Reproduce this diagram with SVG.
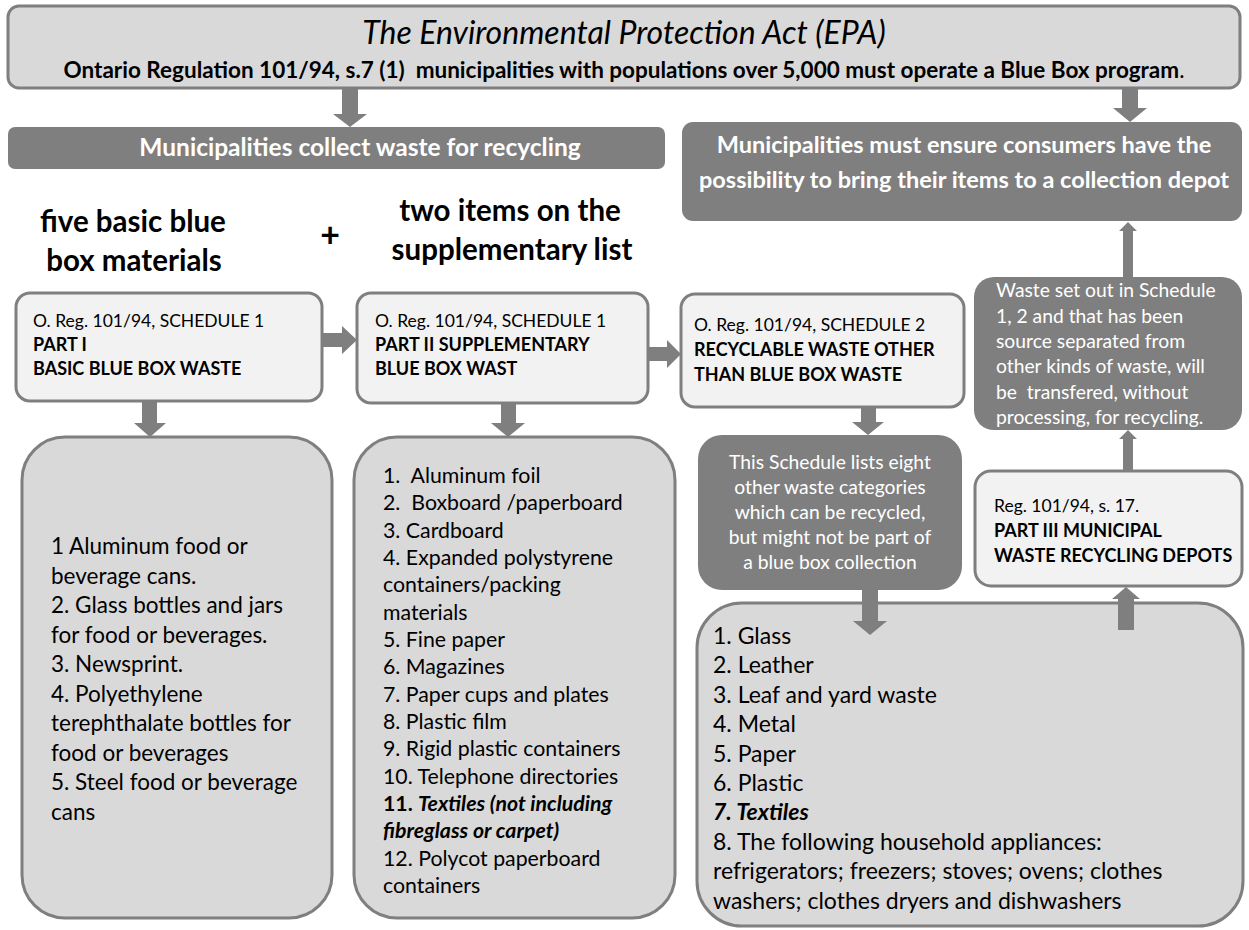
<svg xmlns="http://www.w3.org/2000/svg" width="1249" height="930" viewBox="0 0 1249 930">
<style>
text { font-family: Lato, "Open Sans", "Liberation Sans", sans-serif; fill: #000; }
.hdr { fill: #d9d9d9; stroke: #7f7f7f; stroke-width: 3; }
.dark { fill: #7f7f7f; stroke: none; }
.lite { fill: #f2f2f2; stroke: #7f7f7f; stroke-width: 3; }
.list { fill: #d9d9d9; stroke: #7f7f7f; stroke-width: 3; }
.arr { fill: #7f7f7f; }
.w { fill: #fff; }
.b { font-weight: bold; }
.i { font-style: italic; }
.reg { font-size: 17.5px; }
.regb { font-size: 18px; font-weight: bold; }
.la { font-size: 22.5px; }
.lb { font-size: 21.3px; }
.lc { font-size: 23px; }
.big { font-size: 29.5px; font-weight: bold; }
.note { font-size: 19.3px; fill: #fff; }
</style>

<g id="connectors">
  <!-- header -> collect bar -->
  <polygon class="arr" points="342,89 358,89 358,114 367,114 350,127 333,114 342,114"/>
  <!-- header -> right dark box -->
  <polygon class="arr" points="1122,89 1138,89 1138,108 1147,108 1130,122 1113,108 1122,108"/>
  <!-- box A -> box B -->
  <polygon class="arr" points="322,333 342,333 342,326 357,340 342,354 342,347 322,347"/>
  <!-- box B -> box C -->
  <polygon class="arr" points="648,347 667,347 667,340 681,354 667,368 667,361 648,361"/>
  <!-- box A -> list A -->
  <polygon class="arr" points="142,401 157,401 157,423 166,423 150,437 134,423 142,423"/>
  <!-- box B -> list B -->
  <polygon class="arr" points="501,403 516,403 516,423 525,423 508,437 491,423 501,423"/>
  <!-- box C -> schedule note -->
  <polygon class="arr" points="861,407 876,407 876,422 884,422 868,435 852,422 861,422"/>
</g>

<g id="epa">
  <rect class="hdr" x="8" y="6" width="1232" height="82" rx="11"/>
  <text class="i" x="624" y="44" font-size="32" text-anchor="middle">The Environmental Protection Act (EPA)</text>
  <text class="b" x="624" y="78" font-size="22.5" text-anchor="middle" xml:space="preserve">Ontario Regulation 101/94, s.7 (1)  municipalities with populations over 5,000 must operate a Blue Box program<tspan font-weight="normal">.</tspan></text>
</g>

<g id="collect">
  <rect class="dark" x="8" y="127" width="657" height="42" rx="7"/>
  <text class="w b" x="360" y="156" font-size="24.5" text-anchor="middle">Municipalities collect waste for recycling</text>
</g>

<g id="depot-note">
  <rect class="dark" x="682" y="122" width="560" height="99" rx="11"/>
  <text class="w b" x="964" y="153" font-size="23.5" text-anchor="middle">Municipalities must ensure consumers have the</text>
  <text class="w b" x="964" y="188" font-size="23.5" text-anchor="middle">possibility to bring their items to a collection depot</text>
</g>

<g id="label-five">
  <text class="big" x="133" y="232" text-anchor="middle">five basic blue</text>
  <text class="big" x="134" y="271" text-anchor="middle">box materials</text>
</g>
<g id="plus">
  <text x="330" y="247" font-size="34" font-weight="bold" text-anchor="middle">+</text>
</g>
<g id="label-two">
  <text class="big" x="510" y="221" text-anchor="middle">two items on the</text>
  <text class="big" x="512" y="260" text-anchor="middle">supplementary list</text>
</g>

<g id="part1">
  <rect class="lite" x="16" y="293" width="306" height="108" rx="14"/>
  <text class="reg" x="33" y="327">O. Reg. 101/94, SCHEDULE 1</text>
  <text class="regb" x="33" y="351">PART I</text>
  <text class="regb" x="33" y="375">BASIC BLUE BOX WASTE</text>
</g>

<g id="part2">
  <rect class="lite" x="357" y="293" width="291" height="110" rx="14"/>
  <text class="reg" x="375" y="327">O. Reg. 101/94, SCHEDULE 1</text>
  <text class="regb" x="375" y="351">PART II SUPPLEMENTARY</text>
  <text class="regb" x="375" y="375">BLUE BOX WAST</text>
</g>

<g id="schedule2">
  <rect class="lite" x="681" y="294" width="283" height="113" rx="14"/>
  <text class="reg" x="694" y="331">O. Reg. 101/94, SCHEDULE 2</text>
  <text class="regb" x="694" y="356">RECYCLABLE WASTE OTHER</text>
  <text class="regb" x="694" y="381">THAN BLUE BOX WASTE</text>
</g>

<g id="list-basic">
  <rect class="list" x="22" y="437" width="310" height="481" rx="43"/>
  <text class="la" x="51" y="554">1 Aluminum food or</text>
  <text class="la" x="51" y="584">beverage cans.</text>
  <text class="la" x="51" y="613">2. Glass bottles and jars</text>
  <text class="la" x="51" y="643">for food or beverages.</text>
  <text class="la" x="51" y="672">3. Newsprint.</text>
  <text class="la" x="51" y="702">4. Polyethylene</text>
  <text class="la" x="51" y="731">terephthalate bottles for</text>
  <text class="la" x="51" y="761">food or beverages</text>
  <text class="la" x="51" y="790">5. Steel food or beverage</text>
  <text class="la" x="51" y="820">cans</text>
</g>

<g id="list-supp">
  <rect class="list" x="354" y="437" width="321" height="481" rx="43"/>
  <text class="lb" x="383" y="483" xml:space="preserve">1.  Aluminum foil</text>
  <text class="lb" x="383" y="510" xml:space="preserve">2.  Boxboard /paperboard</text>
  <text class="lb" x="383" y="538">3. Cardboard</text>
  <text class="lb" x="383" y="565">4. Expanded polystyrene</text>
  <text class="lb" x="383" y="592">containers/packing</text>
  <text class="lb" x="383" y="620">materials</text>
  <text class="lb" x="383" y="647">5. Fine paper</text>
  <text class="lb" x="383" y="674">6. Magazines</text>
  <text class="lb" x="383" y="702">7. Paper cups and plates</text>
  <text class="lb" x="383" y="729">8. Plastic film</text>
  <text class="lb" x="383" y="756">9. Rigid plastic containers</text>
  <text class="lb" x="383" y="784">10. Telephone directories</text>
  <text class="lb b" x="383" y="811">11. <tspan class="i">Textiles (not including</tspan></text>
  <text class="lb b i" x="383" y="838">fibreglass or carpet)</text>
  <text class="lb" x="383" y="866">12. Polycot paperboard</text>
  <text class="lb" x="383" y="893">containers</text>
</g>

<g id="schedule-note">
  <rect class="dark" x="698" y="435" width="264" height="155" rx="24"/>
  <text class="note" x="830" y="469" text-anchor="middle">This Schedule lists eight</text>
  <text class="note" x="830" y="494" text-anchor="middle">other waste categories</text>
  <text class="note" x="830" y="519" text-anchor="middle">which can be recycled,</text>
  <text class="note" x="830" y="544" text-anchor="middle">but might not be part of</text>
  <text class="note" x="830" y="569" text-anchor="middle">a blue box collection</text>
</g>

<g id="transfer-note">
  <rect class="dark" x="974" y="277" width="268" height="153" rx="20"/>
  <text class="note" x="996" y="297" font-size="18.7">Waste set out in Schedule</text>
  <text class="note" x="996" y="323" font-size="18.7">1, 2 and that has been</text>
  <text class="note" x="996" y="348" font-size="18.7">source separated from</text>
  <text class="note" x="996" y="373" font-size="18.7">other kinds of waste, will</text>
  <text class="note" x="996" y="399" font-size="18.7" xml:space="preserve">be  transfered, without</text>
  <text class="note" x="996" y="424" font-size="18.7">processing, for recycling.</text>
</g>

<g id="part3">
  <rect class="lite" x="975" y="471" width="267" height="115" rx="16"/>
  <text class="reg" x="994" y="512">Reg. 101/94, s. 17.</text>
  <text class="regb" x="994" y="537">PART III MUNICIPAL</text>
  <text class="regb" x="994" y="562">WASTE RECYCLING DEPOTS</text>
</g>

<g id="list-other">
  <rect class="list" x="697" y="603" width="546" height="323" rx="45"/>
  <text class="lc" x="713" y="644">1. Glass</text>
  <text class="lc" x="713" y="673">2. Leather</text>
  <text class="lc" x="713" y="703">3. Leaf and yard waste</text>
  <text class="lc" x="713" y="732">4. Metal</text>
  <text class="lc" x="713" y="762">5. Paper</text>
  <text class="lc" x="713" y="791">6. Plastic</text>
  <text class="lc b i" x="713" y="820">7. Textiles</text>
  <text class="lc" x="713" y="850">8. The following household appliances:</text>
  <text class="lc" x="713" y="879">refrigerators; freezers; stoves; ovens; clothes</text>
  <text class="lc" x="713" y="909">washers; clothes dryers and dishwashers</text>
</g>

<g id="connectors-over">
  <!-- schedule note -> list other -->
  <polygon class="arr" points="862,590 878,590 878,621 887,621 870,635 853,621 862,621"/>
  <!-- list other -> part3 -->
  <polygon class="arr" points="1118,630 1134,630 1134,599 1140,599 1126,587 1112,599 1118,599"/>
  <!-- part3 -> transfer note -->
  <polygon class="arr" points="1123,472 1133,472 1133,439 1137,439 1128,430 1119,439 1123,439"/>
  <!-- transfer note -> depot note -->
  <polygon class="arr" points="1123,277 1133,277 1133,231 1137,231 1128,222 1119,231 1123,231"/>
</g>
</svg>
